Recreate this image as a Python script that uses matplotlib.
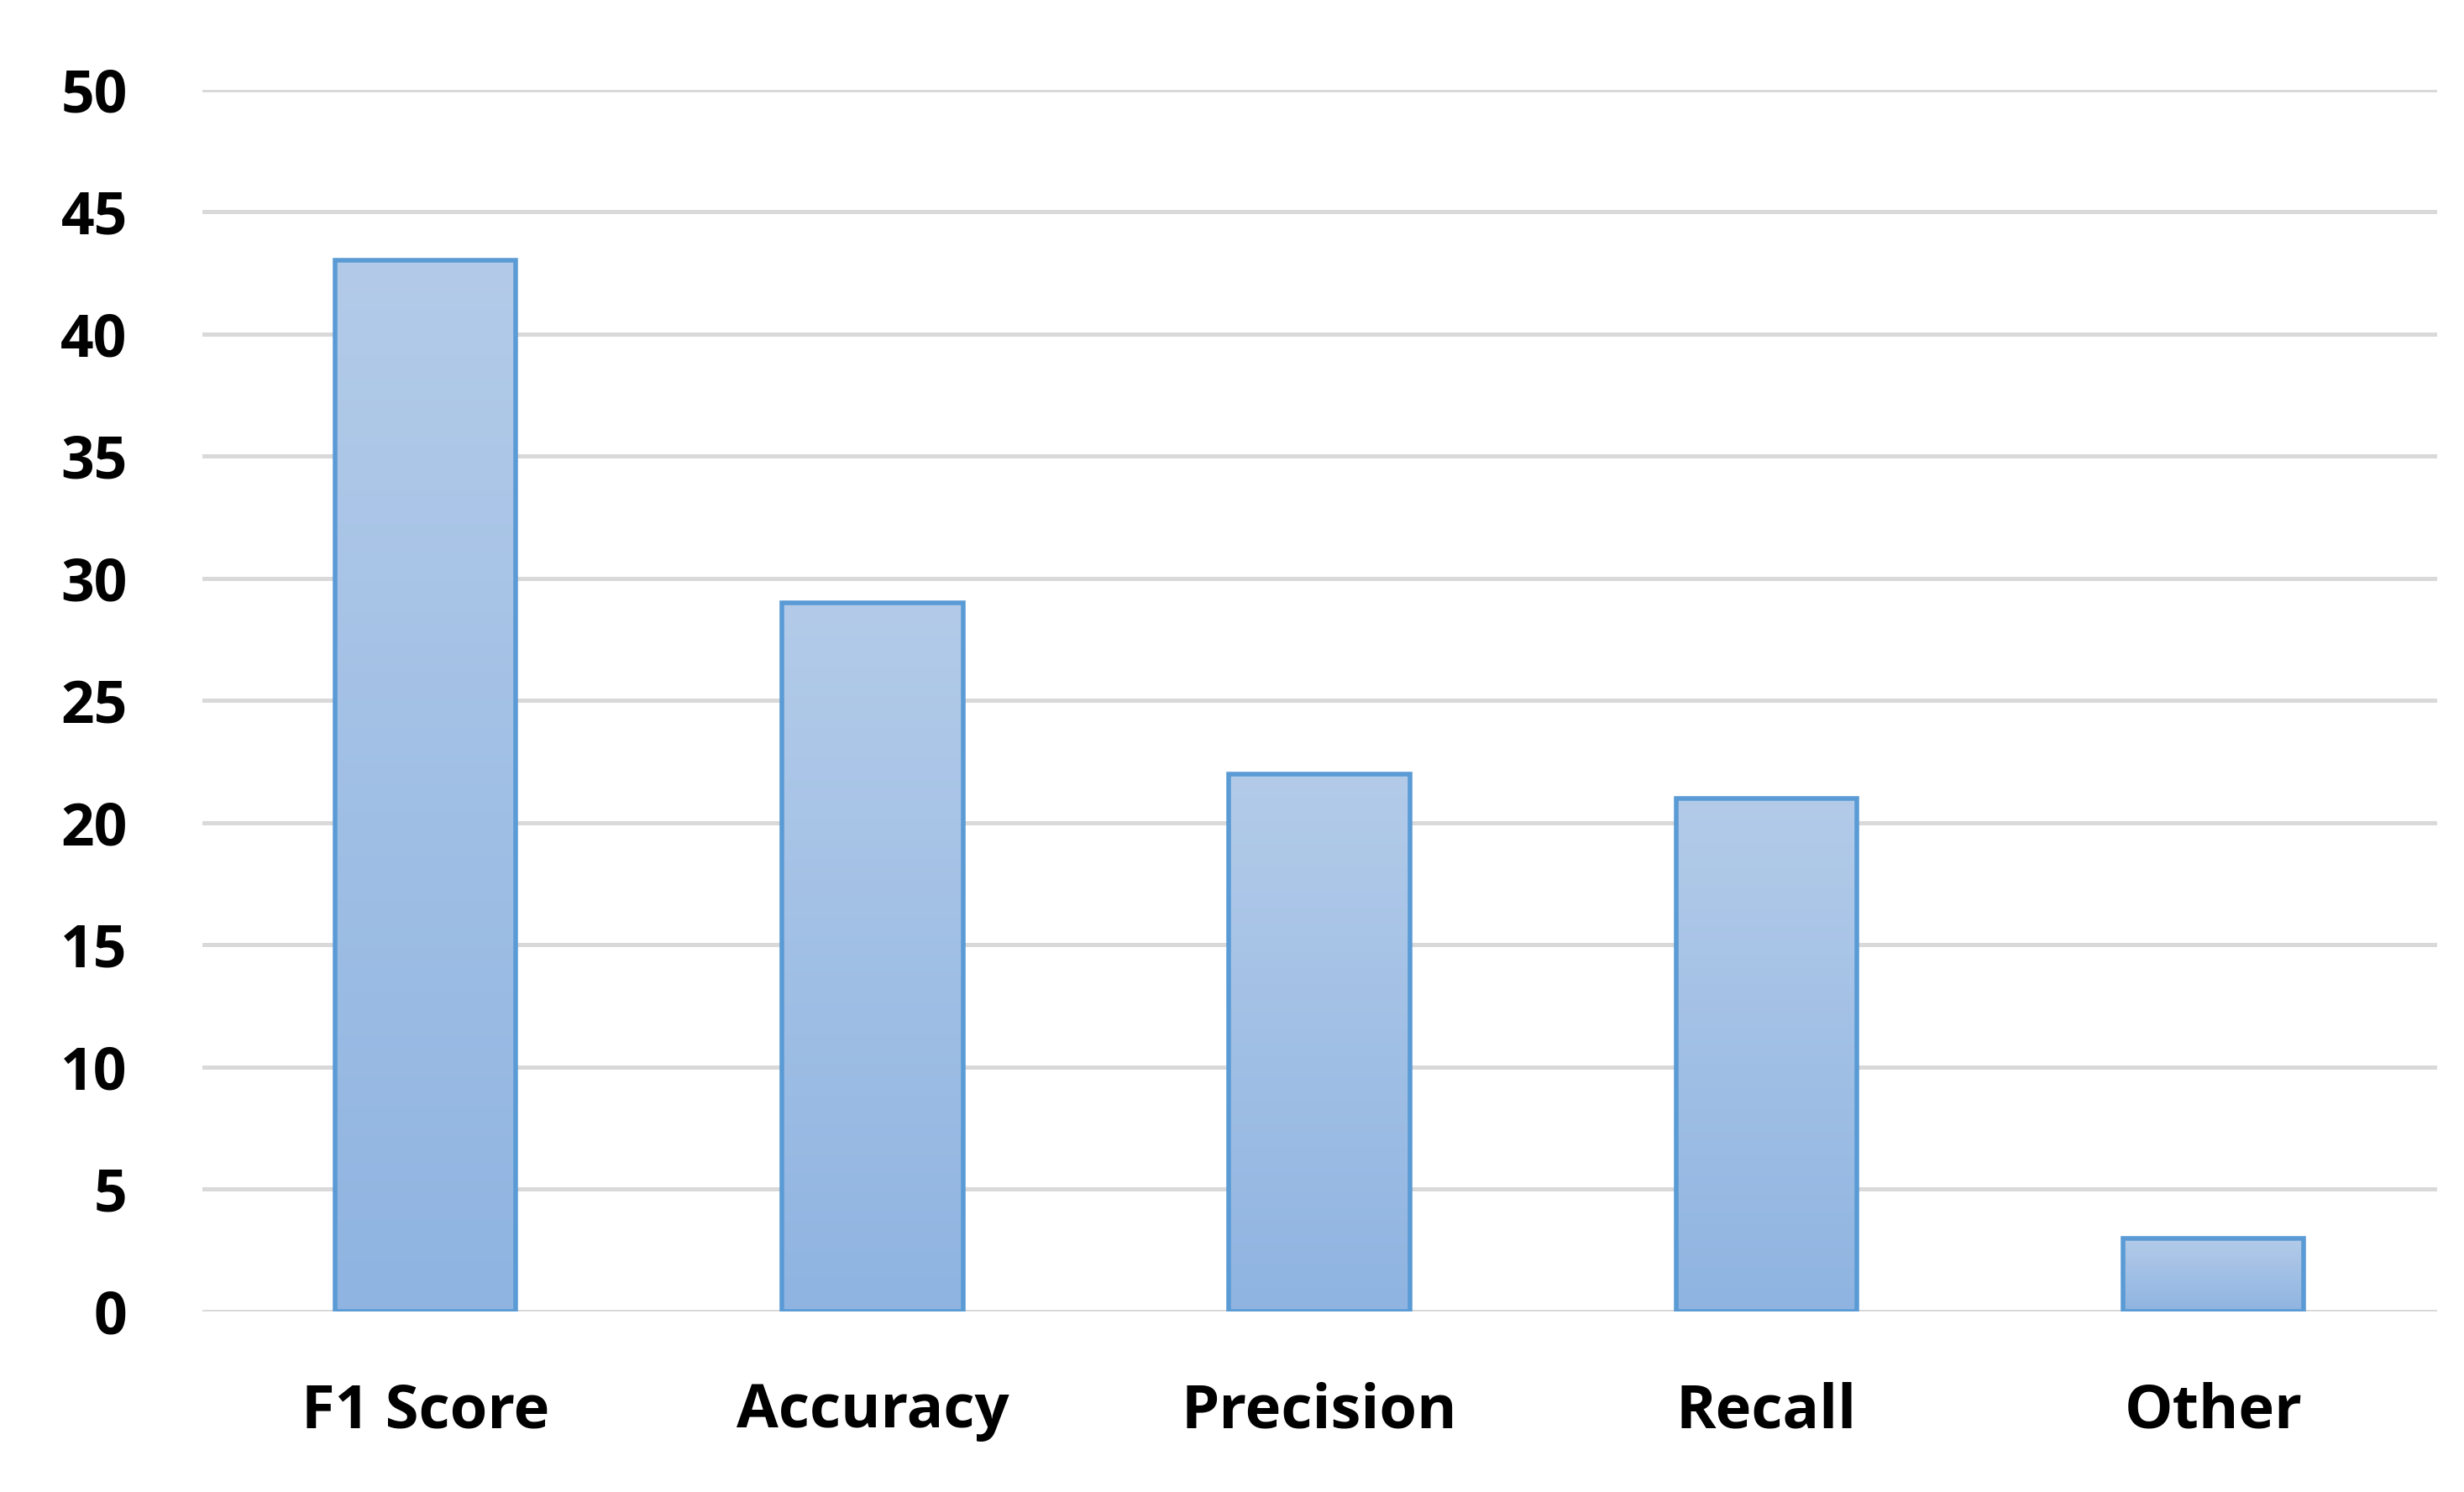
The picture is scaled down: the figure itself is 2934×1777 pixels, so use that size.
import matplotlib
matplotlib.use("Agg")
import matplotlib.pyplot as plt
import numpy as np
from matplotlib.colors import LinearSegmentedColormap

categories = ["F1 Score", "Accuracy", "Precision", "Recall", "Other"]
values = [43, 29, 22, 21, 3]
yticks = [0, 5, 10, 15, 20, 25, 30, 35, 40, 45, 50]

plt.rcParams['font.family'] = ['Open Sans', 'DejaVu Sans']
fig = plt.figure(figsize=(14.67, 8.885), dpi=200)
ax = fig.add_axes([0.082, 0.121, 0.907, 0.819])
ax.set_xlim(-0.5, 4.5)
ax.set_ylim(0, 50)
ax.set_yticks(yticks)
ax.grid(axis='y', color='#d9d9d9', linewidth=1.8, zorder=0)
ax.set_axisbelow(True)

grad = np.linspace(0, 1, 256).reshape(-1, 1)
cmap = LinearSegmentedColormap.from_list('g', ['#8fb4e1', '#b3cbe9'])
w = 0.405
bars = ax.bar(range(len(values)), values, width=w, color='none',
              edgecolor='#5b9bd5', linewidth=2, zorder=3)
for b in bars:
    x0, y0 = b.get_x(), b.get_y()
    im = ax.imshow(grad, extent=[x0, x0 + b.get_width(), y0, y0 + b.get_height()],
                   aspect='auto', cmap=cmap, origin='lower', zorder=2)
    im.set_clip_path(b)

ax.set_xticks(range(len(categories)))
ax.set_xticklabels(categories, fontsize=26, fontweight='bold')
ax.tick_params(axis='y', labelsize=25, length=0, pad=32)
ax.tick_params(axis='x', length=0, pad=30)
for lab in ax.get_yticklabels():
    lab.set_fontweight('bold')
for s in ax.spines.values():
    s.set_visible(False)
fig.savefig("out.png", dpi=200, facecolor='white')
